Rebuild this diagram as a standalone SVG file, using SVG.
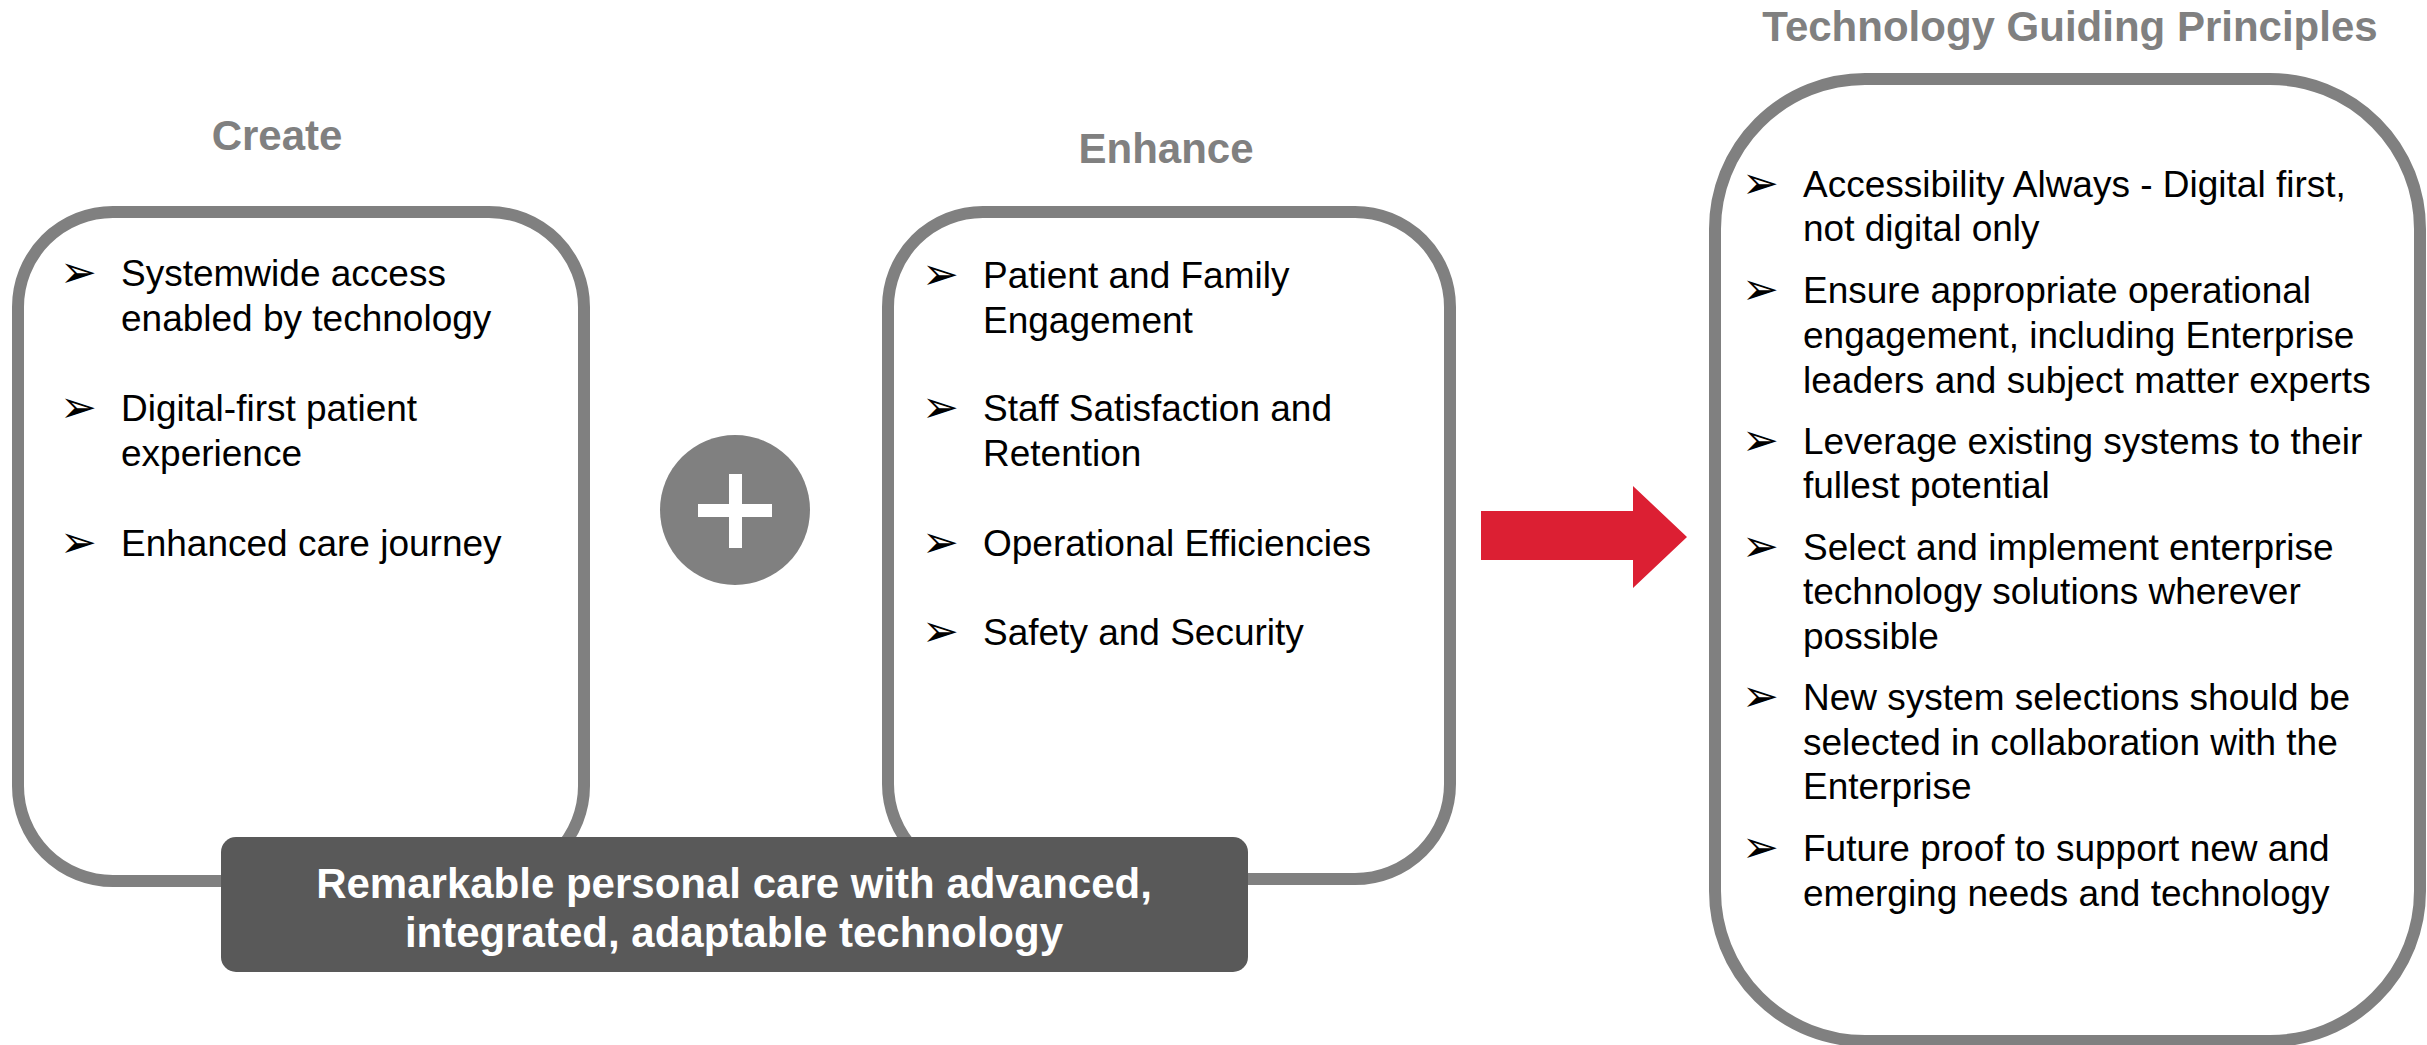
<svg xmlns="http://www.w3.org/2000/svg" width="2427" height="1045" viewBox="0 0 2427 1045">
<style>
.box{fill:#ffffff;stroke:#808080;stroke-width:12}
.title{font-family:"Liberation Sans",Arial,sans-serif;font-weight:bold;font-size:42px;fill:#808080;text-anchor:middle}
.t{font-family:"Liberation Sans",Arial,sans-serif;font-size:37px;fill:#000000}
.b{font-family:"DejaVu Sans",sans-serif;font-size:44px;fill:#000000}
.banner-text{font-family:"Liberation Sans",Arial,sans-serif;font-weight:bold;font-size:42px;fill:#ffffff;text-anchor:middle}
</style>
<rect width="2427" height="1045" fill="#ffffff"/>

<g id="create">
<text class="title" x="277" y="150">Create</text>
<rect class="box" x="18" y="212" width="566" height="669" rx="95"/>
<text class="b" x="60" y="287">➢</text>
<text class="t" x="121" y="286">Systemwide access</text>
<text class="t" x="121" y="331">enabled by technology</text>
<text class="b" x="60" y="422">➢</text>
<text class="t" x="121" y="421">Digital-first patient</text>
<text class="t" x="121" y="466">experience</text>
<text class="b" x="60" y="557">➢</text>
<text class="t" x="121" y="556">Enhanced care journey</text>
</g>

<g id="enhance">
<text class="title" x="1166" y="163">Enhance</text>
<rect class="box" x="888" y="212" width="562" height="667" rx="95"/>
<text class="b" x="922" y="289">➢</text>
<text class="t" x="983" y="288">Patient and Family</text>
<text class="t" x="983" y="333">Engagement</text>
<text class="b" x="922" y="422">➢</text>
<text class="t" x="983" y="421">Staff Satisfaction and</text>
<text class="t" x="983" y="466">Retention</text>
<text class="b" x="922" y="557">➢</text>
<text class="t" x="983" y="556">Operational Efficiencies</text>
<text class="b" x="922" y="646">➢</text>
<text class="t" x="983" y="645">Safety and Security</text>
</g>

<g id="plus">
<circle cx="735" cy="510" r="75" fill="#808080"/>
<rect x="698" y="504" width="74" height="13" fill="#ffffff"/>
<rect x="729" y="474" width="13" height="74" fill="#ffffff"/>
</g>

<g id="banner">
<rect x="221" y="837" width="1027" height="135" rx="15" fill="#595959"/>
<text class="banner-text" x="734" y="898">Remarkable personal care with advanced,</text>
<text class="banner-text" x="734" y="947">integrated, adaptable technology</text>
</g>

<g id="principles">
<text class="title" x="2070" y="41">Technology Guiding Principles</text>
<rect class="box" x="1715" y="79" width="705" height="962" rx="150"/>
<text class="b" x="1742" y="198">➢</text>
<text class="t" x="1803" y="197">Accessibility Always - Digital first,</text>
<text class="t" x="1803" y="241">not digital only</text>
<text class="b" x="1742" y="304">➢</text>
<text class="t" x="1803" y="303">Ensure appropriate operational</text>
<text class="t" x="1803" y="348">engagement, including Enterprise</text>
<text class="t" x="1803" y="393">leaders and subject matter experts</text>
<text class="b" x="1742" y="455">➢</text>
<text class="t" x="1803" y="454">Leverage existing systems to their</text>
<text class="t" x="1803" y="498">fullest potential</text>
<text class="b" x="1742" y="561">➢</text>
<text class="t" x="1803" y="560">Select and implement enterprise</text>
<text class="t" x="1803" y="604">technology solutions wherever</text>
<text class="t" x="1803" y="649">possible</text>
<text class="b" x="1742" y="711">➢</text>
<text class="t" x="1803" y="710">New system selections should be</text>
<text class="t" x="1803" y="755">selected in collaboration with the</text>
<text class="t" x="1803" y="799">Enterprise</text>
<text class="b" x="1742" y="862">➢</text>
<text class="t" x="1803" y="861">Future proof to support new and</text>
<text class="t" x="1803" y="906">emerging needs and technology</text>
</g>

<g id="connectors">
<polygon points="1481,511 1633,511 1633,486 1687,537 1633,588 1633,560 1481,560" fill="#DC1F33"/>
</g>
</svg>
